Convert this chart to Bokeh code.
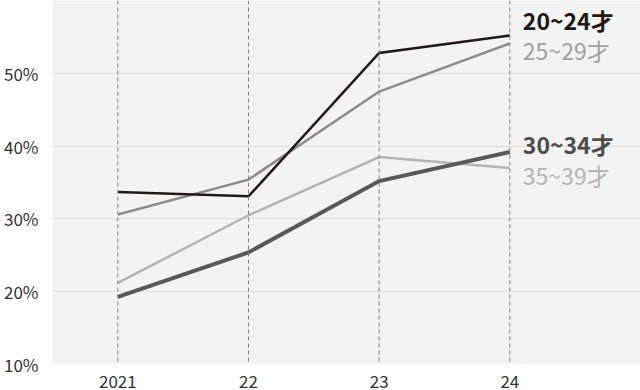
from bokeh.plotting import figure
from bokeh.models import Range1d, FixedTicker, Span, ColumnDataSource
from bokeh.embed import file_html
from bokeh.resources import INLINE
from bokeh.core.properties import value

years = [2021, 2022, 2023, 2024]
year_labels = ["2021", "22", "23", "24"]
s20_24 = [33.7, 33.1, 52.8, 55.2]
s25_29 = [30.6, 35.4, 47.5, 54.1]
s30_34 = [19.3, 25.4, 35.2, 39.2]
s35_39 = [21.2, 30.5, 38.5, 37.0]
series_names = ["20~24才", "25~29才", "30~34才", "35~39才"]
y_ticks = [10, 20, 30, 40, 50]

FONT = "Noto Sans CJK JP"

p = figure(width=640, height=390, output_backend="svg", toolbar_location=None,
           x_range=Range1d(2020.5, 2025.0), y_range=Range1d(10, 60),
           min_border_left=0, min_border_right=0, min_border_top=0, min_border_bottom=24)
p.outline_line_color = None
p.background_fill_color = "#f3f3f3"
p.border_fill_color = "white"

# axes
p.xaxis.ticker = FixedTicker(ticks=years)
p.xaxis.major_label_overrides = {y: l for y, l in zip(years, year_labels)}
p.yaxis.ticker = FixedTicker(ticks=y_ticks)
p.yaxis.major_label_overrides = {t: f"{t}%" for t in y_ticks}
for ax in (p.xaxis[0], p.yaxis[0]):
    ax.axis_line_color = None
    ax.major_tick_line_color = None
    ax.minor_tick_line_color = None
    ax.major_label_text_font = FONT
    ax.major_label_text_font_size = "17px"
    ax.major_label_text_color = "#333333"
p.yaxis.major_label_standoff = 8
p.xaxis.major_label_standoff = 4

p.xgrid.grid_line_color = None
p.ygrid.ticker = FixedTicker(ticks=y_ticks)
p.ygrid.grid_line_color = "#dedede"
p.ygrid.grid_line_width = 1

for yr in years:
    p.add_layout(Span(location=yr, dimension="height", line_color="#808080",
                      line_dash="4 3", line_width=1))

colors = ["#231815", "#8c8c8c", "#595959", "#b4b4b4"]
label_colors = ["#231815", "#a0a0a0", "#4d4d4d", "#b4b4b4"]
widths = [2.5, 2.5, 4, 2.5]
data = [s20_24, s25_29, s30_34, s35_39]
order = [3, 1, 2, 0]
for i in order:
    p.line(years, data[i], line_color=colors[i], line_width=widths[i], line_join="miter")

label_offsets = [-15, 7, -8, 7]
weights = ["bold", "normal", "bold", "normal"]
for i in range(4):
    src = ColumnDataSource(dict(x=[years[-1]], y=[data[i][-1]], t=[series_names[i]]))
    p.text(x="x", y="y", text="t", source=src, x_offset=13, y_offset=label_offsets[i],
           text_font=value(FONT), text_font_size="23px", text_font_style=weights[i],
           text_color=label_colors[i], text_baseline="middle", text_align="left")

open("out.html", "w").write(file_html(p, INLINE))
